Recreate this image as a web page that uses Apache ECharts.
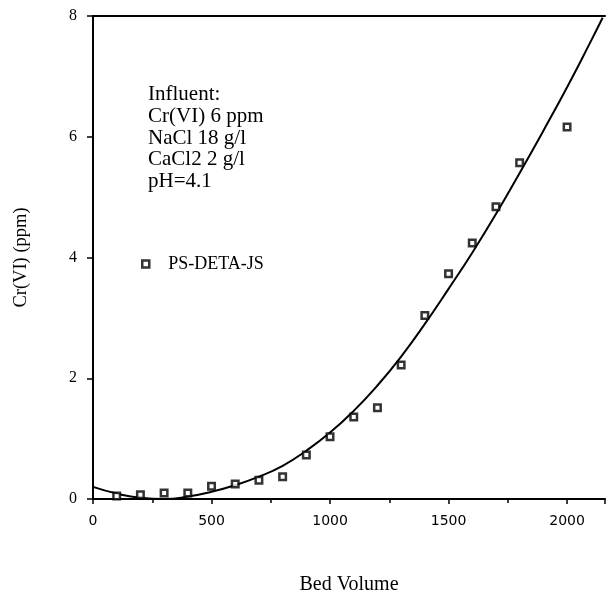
<!DOCTYPE html>
<html>
<head>
<meta charset="utf-8">
<script src="https://cdn.jsdelivr.net/npm/echarts@6/dist/echarts.min.js"></script>
<style>html,body{margin:0;padding:0;background:#fff}#c{width:610px;height:596px}</style>
</head>
<body>
<div id="c"></div>
<script>
// Measured points
var bedVolume = [100, 200, 300, 400, 500, 600, 700, 800, 900, 1000, 1100, 1200, 1300, 1400, 1500, 1600, 1700, 1800, 2000];
var crValues  = [0.05, 0.07, 0.10, 0.10, 0.21, 0.25, 0.31, 0.37, 0.73, 1.03, 1.36, 1.51, 2.22, 3.04, 3.73, 4.24, 4.84, 5.57, 6.16];
// Fitted curve
var curveX = [0, 100, 200, 300, 400, 500, 600, 700, 800, 900, 1000, 1100, 1200, 1300, 1400, 1500, 1600, 1700, 1800, 1900, 2000, 2100, 2150];
var curveY = [0.20, 0.09, 0.02, 0.00, 0.04, 0.12, 0.23, 0.37, 0.55, 0.80, 1.10, 1.46, 1.88, 2.36, 2.90, 3.48, 4.08, 4.72, 5.40, 6.10, 6.82, 7.58, 7.97];
var xTicks = [0, 500, 1000, 1500, 2000];
var yTicks = [0, 2, 4, 6, 8];
var seriesName = 'PS-DETA-JS';
var noteLines = ['Influent:', 'Cr(VI) 6 ppm', 'NaCl 18 g/l', 'CaCl2 2 g/l', 'pH=4.1'];

var serif = '"Liberation Serif", "DejaVu Serif", serif';
var sans = '"DejaVu Sans", "Liberation Sans", sans-serif';

var chart = echarts.init(document.getElementById('c'), null, {renderer: 'canvas'});
var pts = bedVolume.map(function (x, i) { return [x, crValues[i]]; });
var curve = curveX.map(function (x, i) { return [x, curveY[i]]; });

chart.setOption({
  backgroundColor: '#fff',
  animation: false,
  grid: {left: 93, right: 5, top: 16, bottom: 97, containLabel: false, outerBoundsMode: 'none'},
  xAxis: [{
    type: 'value', min: 0, max: 2160, interval: 500,
    axisLine: {show: true, lineStyle: {color: '#000', width: 2}},
    axisTick: {show: true, length: 5, inside: false, lineStyle: {color: '#000', width: 1.5}},
    minorTick: {show: true, splitNumber: 2, length: 4, lineStyle: {color: '#000', width: 1.5}},
    splitLine: {show: false},
    axisLabel: {color: '#000', fontFamily: sans, fontSize: 14, margin: 15, showMaxLabel: false,
      formatter: function (v) { return xTicks.indexOf(v) >= 0 ? String(v) : ''; }},
    name: 'Bed Volume', nameLocation: 'middle', nameGap: 76,
    nameTextStyle: {color: '#000', fontFamily: serif, fontSize: 20}
  }, {
    type: 'value', position: 'top', min: 0, max: 2160,
    axisLine: {show: true, lineStyle: {color: '#000', width: 2}},
    axisTick: {show: false}, axisLabel: {show: false}, splitLine: {show: false}
  }],
  yAxis: {
    type: 'value', min: 0, max: 8, interval: 2,
    axisLine: {show: true, lineStyle: {color: '#000', width: 2}},
    axisTick: {show: true, length: 6, lineStyle: {color: '#000', width: 1.5}},
    splitLine: {show: false},
    axisLabel: {color: '#000', fontFamily: serif, fontSize: 16, margin: 16,
      formatter: function (v) { return yTicks.indexOf(v) >= 0 ? String(v) : ''; }},
    name: 'Cr(VI) (ppm)', nameLocation: 'middle', nameGap: 62,
    nameTextStyle: {color: '#000', fontFamily: serif, fontSize: 18.5}
  },
  legend: {
    show: true, left: 141, top: 255, itemWidth: 7, itemHeight: 7, padding: 0,
    itemStyle: {color: '#fff', borderColor: '#000', borderWidth: 2.5},
    textStyle: {color: '#000', fontFamily: serif, fontSize: 18, padding: [0, 0, 0, 14]},
    data: [{name: seriesName, icon: 'rect'}]
  },
  series: [{
    name: seriesName, type: 'scatter', data: pts, symbol: 'rect', symbolSize: 6.5,
    itemStyle: {color: '#fff', borderColor: '#000', borderWidth: 2.5}, z: 3
  }, {
    name: 'fit', type: 'line', data: curve, smooth: 0.5, showSymbol: false, symbol: 'none',
    lineStyle: {color: '#000', width: 2}, z: 2
  }],
  graphic: [{
    type: 'text', left: 148, top: 84,
    style: {text: noteLines.join('\n'), font: '21px ' + serif, fill: '#000', lineHeight: 21.7}
  }]
});
</script>
</body>
</html>
